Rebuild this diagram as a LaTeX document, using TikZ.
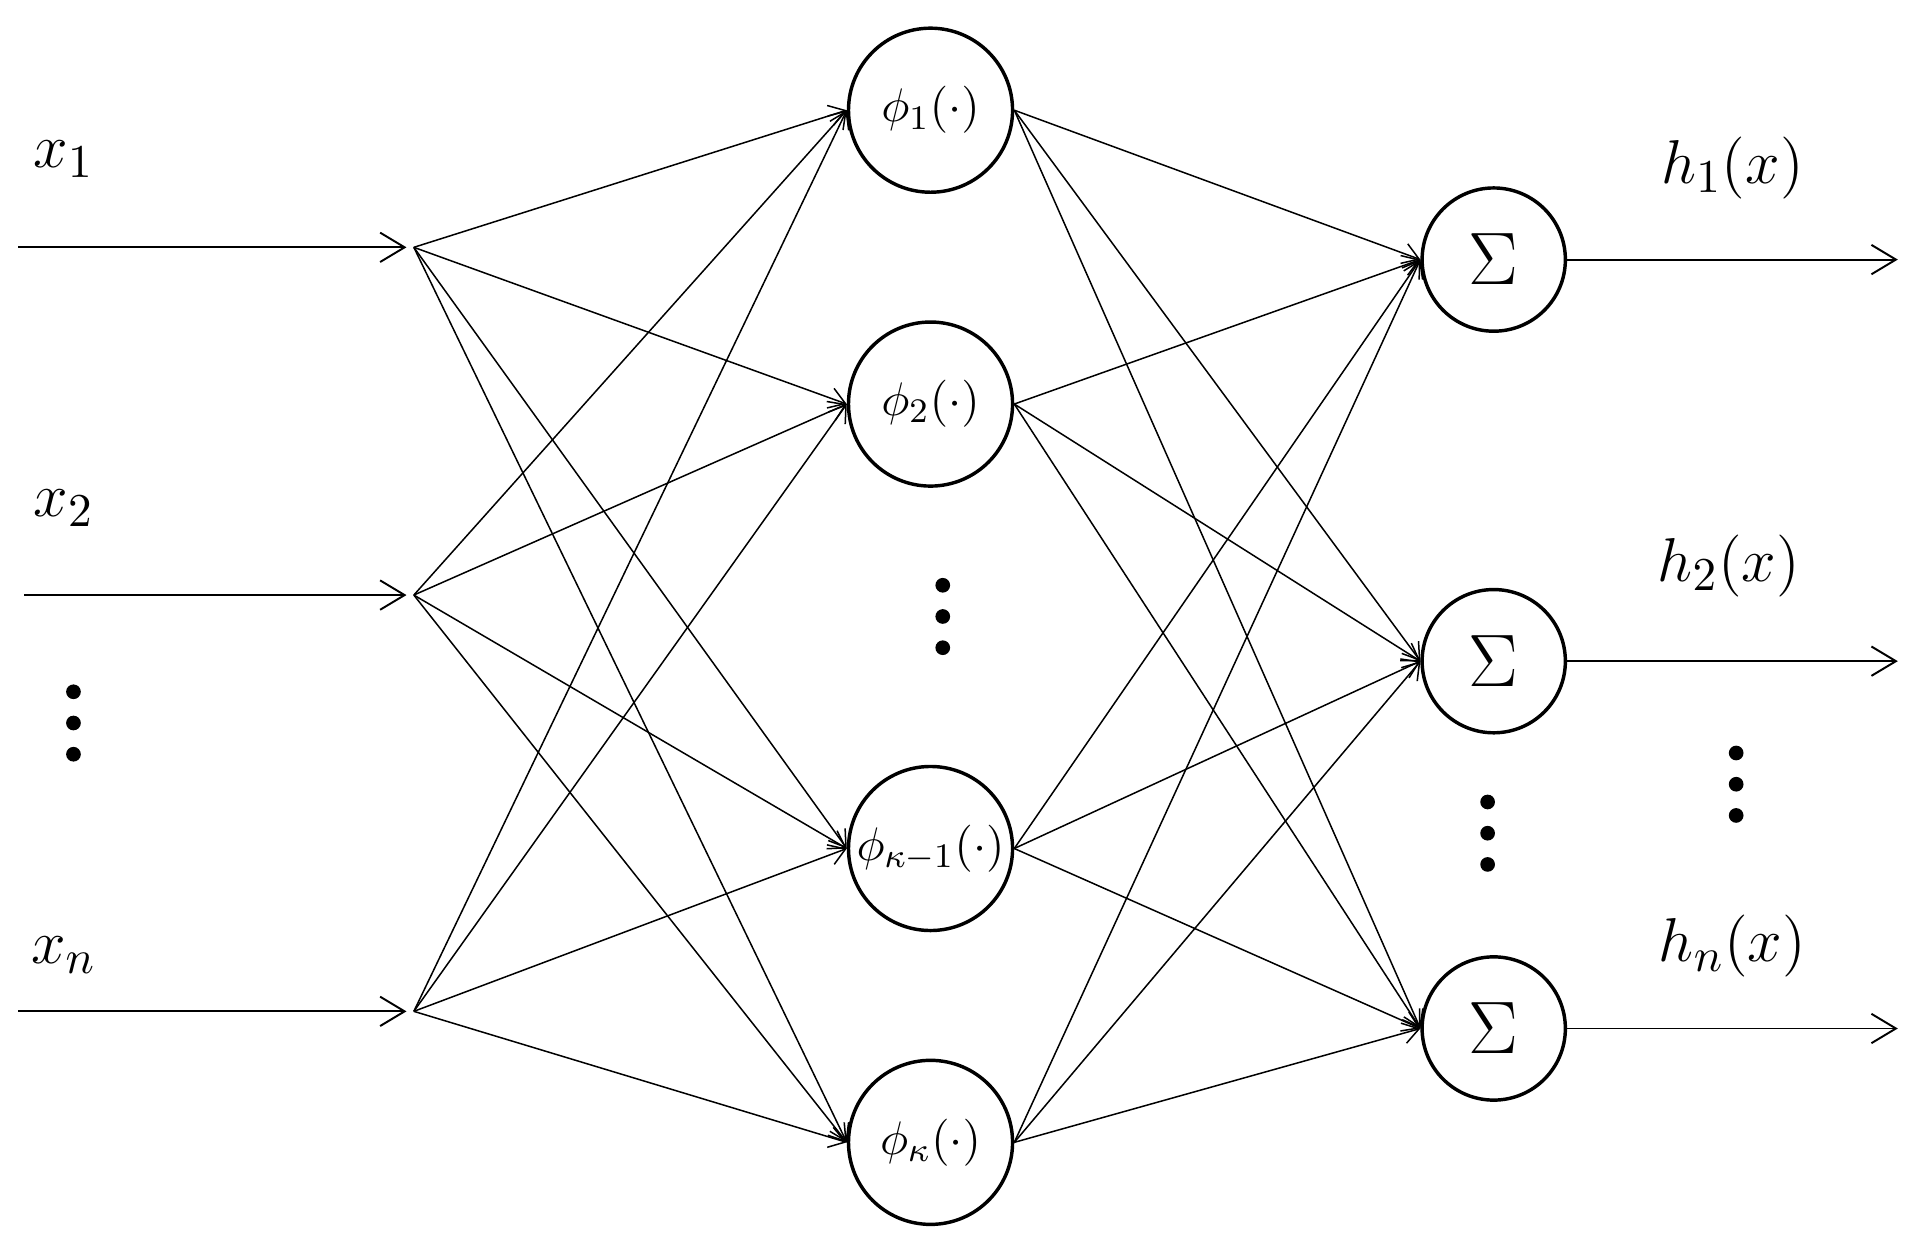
\documentclass[tikz,border=0pt]{standalone}
\usetikzlibrary{arrows.meta}
\tikzset{
  phinode/.style={draw,line width=0.8pt,circle,minimum size=1.34cm,inner sep=0pt,font=\fontsize{11}{13}\selectfont},
  signode/.style={draw,line width=0.8pt,circle,minimum size=1.17cm,inner sep=0pt,font=\fontsize{16}{18}\selectfont},
  lbl/.style={font=\fontsize{15}{17}\selectfont},
  wire/.style={line width=0.35pt,-{Straight Barb[length=0.13cm,width=0.17cm]}},
  bigwire/.style={line width=0.45pt,-{Straight Barb[length=0.2cm,width=0.24cm]}},
}
\begin{document}
\begin{tikzpicture}[x=1cm,y=-1cm]
\useasboundingbox (0,0) rectangle (15.60,10.185);
% inputs
\coordinate (s1) at (0.15,2.02);
\coordinate (s2) at (0.20,4.86);
\coordinate (sn) at (0.15,8.26);
\coordinate (i1) at (3.38,2.02);
\coordinate (i2) at (3.38,4.86);
\coordinate (in) at (3.38,8.26);
\node[lbl] (lx1) at (0.52,1.30) {$x_1$};
\node[lbl] (lx2) at (0.52,4.15) {$x_2$};
\node[lbl] (lxn) at (0.52,7.80) {$x_n$};
\draw[bigwire,shorten >=0.6mm] (s1) -- (i1);
\draw[bigwire,shorten >=0.6mm] (s2) -- (i2);
\draw[bigwire,shorten >=0.6mm] (sn) -- (in);
% hidden layer
\node[phinode] (p1) at (7.60,0.90) {$\phi_1(\cdot)$};
\node[phinode] (p2) at (7.60,3.30) {$\phi_2(\cdot)$};
\node[phinode] (pk1) at (7.60,6.93) {$\phi_{\kappa-1}(\cdot)$};
\node[phinode] (pk) at (7.60,9.33) {$\phi_\kappa(\cdot)$};
% outputs
\node[signode] (g1) at (12.20,2.12) {$\Sigma$};
\node[signode] (g2) at (12.20,5.40) {$\Sigma$};
\node[signode] (gn) at (12.20,8.40) {$\Sigma$};
\coordinate (o1) at (15.50,2.12);
\coordinate (o2) at (15.50,5.40);
\coordinate (on) at (15.50,8.40);
\draw[bigwire] (g1.east) -- (o1);
\draw[bigwire] (g2.east) -- (o2);
\draw[bigwire] (gn.east) -- (on);
\node[lbl] (lh1) at (14.15,1.37) {$h_1(x)$};
\node[lbl] (lh2) at (14.12,4.62) {$h_2(x)$};
\node[lbl] (lhn) at (14.15,7.73) {$h_n(x)$};
% connections
\foreach \i in {i1,i2,in}
  \foreach \p in {p1,p2,pk1,pk}
    \draw[wire] (\i) -- (\p.west);
\foreach \p in {p1,p2,pk1,pk}
  \foreach \g in {g1,g2,gn}
    \draw[wire] (\p.east) -- (\g.west);
% dots
\foreach \x/\y in {0.60/5.65,7.70/4.78,12.15/6.55,14.18/6.15}
  \foreach \k in {0,0.255,0.51}
    \fill (\x,\y+\k) circle (0.06);
\end{tikzpicture}
\end{document}
